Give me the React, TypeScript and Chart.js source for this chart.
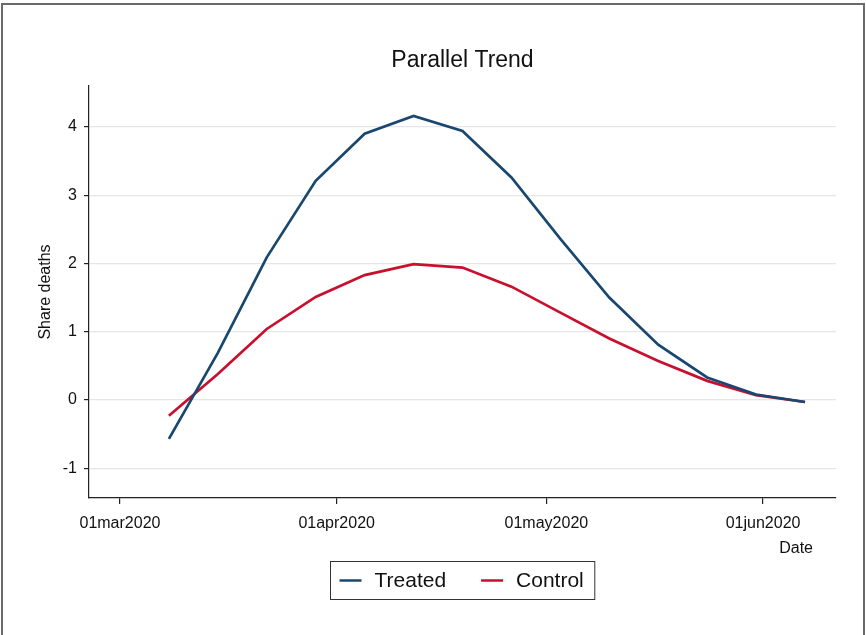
import React, { useEffect, useRef } from "react";
import { Chart, registerables } from "chart.js";

Chart.register(...registerables);

// ---- Data ----
const dates = [
  "2020-03-08", "2020-03-15", "2020-03-22", "2020-03-29", "2020-04-05",
  "2020-04-12", "2020-04-19", "2020-04-26", "2020-05-03", "2020-05-10",
  "2020-05-17", "2020-05-24", "2020-05-31", "2020-06-07",
];
const treated = [-0.57, 0.69, 2.09, 3.21, 3.9, 4.16, 3.94, 3.26, 2.36, 1.5, 0.81, 0.33, 0.08, -0.03];
const control = [-0.23, 0.38, 1.04, 1.51, 1.83, 1.99, 1.94, 1.66, 1.28, 0.9, 0.57, 0.28, 0.07, -0.03];
const xTickDates = ["2020-03-01", "2020-04-01", "2020-05-01", "2020-06-01"];
const xTickLabels = ["01mar2020", "01apr2020", "01may2020", "01jun2020"];
const yTicks = [-1, 0, 1, 2, 3, 4];
const seriesLabels = ["Treated", "Control"];

const TITLE = "Parallel Trend";
const Y_TITLE = "Share deaths";
const X_TITLE = "Date";

const FONT = '"Liberation Sans", Arial, Helvetica, sans-serif';
const TEXT = "#111111";
const BLUE = "#1a476f";
const RED = "#c8102e";

const BASE = Date.UTC(2020, 2, 1);
const toDay = (s: string) => {
  const [y, m, d] = s.split("-").map(Number);
  return Math.round((Date.UTC(y, m - 1, d) - BASE) / 86400000);
};
const xTickDays = xTickDates.map(toDay);

const decor = {
  id: "decor",
  afterDraw(chart: any) {
    const { ctx, chartArea } = chart;
    const cx = (chartArea.left + chartArea.right) / 2;
    ctx.save();
    ctx.fillStyle = TEXT;
    // Title
    ctx.font = `23px ${FONT}`;
    ctx.textAlign = "center";
    ctx.textBaseline = "middle";
    ctx.fillText(TITLE, cx, chartArea.top - 25);
    // Y title
    ctx.save();
    ctx.translate(46, (chartArea.top + chartArea.bottom) / 2);
    ctx.rotate(-Math.PI / 2);
    ctx.font = `16px ${FONT}`;
    ctx.fillText(Y_TITLE, 0, 0);
    ctx.restore();
    // X title
    ctx.font = `16px ${FONT}`;
    ctx.textAlign = "right";
    ctx.fillText(X_TITLE, chartArea.right - 23, chartArea.bottom + 51);
    // Legend
    ctx.font = `21px ${FONT}`;
    const items = chart.data.datasets.map((ds: any) => ({
      label: ds.label,
      color: ds.borderColor,
      w: ctx.measureText(ds.label).width,
    }));
    const padL = 9, lineLen = 22, gapT = 13, gapI = 35, padR = 11;
    let total = padL + padR;
    items.forEach((it: any, i: number) => {
      total += lineLen + gapT + it.w + (i < items.length - 1 ? gapI : 0);
    });
    const bx = Math.round(cx - total / 2) + 0.5;
    const by = chartArea.bottom + 63.5;
    const bh = 38;
    ctx.strokeStyle = "#333333";
    ctx.lineWidth = 1;
    ctx.strokeRect(bx, by, total, bh);
    let x = bx + padL;
    const my = by + bh / 2;
    ctx.textAlign = "left";
    items.forEach((it: any) => {
      ctx.strokeStyle = it.color;
      ctx.lineWidth = 2.5;
      ctx.beginPath();
      ctx.moveTo(x, my);
      ctx.lineTo(x + lineLen, my);
      ctx.stroke();
      x += lineLen + gapT;
      ctx.fillStyle = TEXT;
      ctx.fillText(it.label, x, my + 1);
      x += it.w + gapI;
    });
    ctx.restore();
  },
};

export default function App() {
  const ref = useRef<HTMLCanvasElement>(null);
  useEffect(() => {
    document.body.style.margin = "0";
    const days = dates.map(toDay);
    const chart = new Chart(ref.current as HTMLCanvasElement, {
      type: "line",
      data: {
        datasets: [
          {
            label: seriesLabels[0],
            data: days.map((d, i) => ({ x: d, y: treated[i] })),
            borderColor: BLUE,
            borderWidth: 2.7,
            pointRadius: 0,
            tension: 0,
          },
          {
            label: seriesLabels[1],
            data: days.map((d, i) => ({ x: d, y: control[i] })),
            borderColor: RED,
            borderWidth: 2.7,
            pointRadius: 0,
            tension: 0,
          },
        ],
      },
      options: {
        responsive: false,
        animation: false,
        layout: { padding: { left: 0, top: 86, right: 30, bottom: 0 } },
        plugins: {
          legend: { display: false },
          title: { display: false },
          tooltip: { enabled: false },
        },
        scales: {
          x: {
            type: "linear",
            min: -4.43,
            max: 102.43,
            afterFit: (s: any) => { s.height = 137; },
            afterBuildTicks: (s: any) => { s.ticks = xTickDays.map((v) => ({ value: v })); },
            grid: { drawOnChartArea: false, tickLength: 6, tickColor: "#222", lineWidth: 1.2 },
            border: { display: true, color: "#222", width: 1.2 },
            ticks: {
              padding: 10,
              color: TEXT,
              font: { family: FONT, size: 16 },
              callback: (v: any) => {
                const i = xTickDays.indexOf(Number(v));
                return i >= 0 ? xTickLabels[i] : "";
              },
            },
          },
          y: {
            min: -1.436,
            max: 4.6,
            afterFit: (s: any) => { s.width = 89; },
            afterBuildTicks: (s: any) => { s.ticks = yTicks.map((v) => ({ value: v })); },
            grid: { color: "#e6e6e6", lineWidth: 1.2, tickLength: 5, tickColor: "#222" },
            border: { display: true, color: "#222", width: 1.2 },
            ticks: {
              padding: 7,
              color: TEXT,
              font: { family: FONT, size: 16 },
            },
          },
        },
      },
      plugins: [decor],
    } as any);
    return () => chart.destroy();
  }, []);

  return (
    <div style={{ position: "fixed", left: 0, top: 0, width: 866, height: 635, overflow: "hidden", background: "#fff" }}>
      <div
        style={{
          position: "absolute",
          left: 1,
          top: 3,
          width: 864,
          height: 700,
          boxSizing: "border-box",
          border: "2px solid #6a6a6a",
          borderBottom: "none",
        }}
      />
      <canvas ref={ref} width={866} height={635} style={{ position: "absolute", left: 0, top: 0, display: "block" }} />
    </div>
  );
}
